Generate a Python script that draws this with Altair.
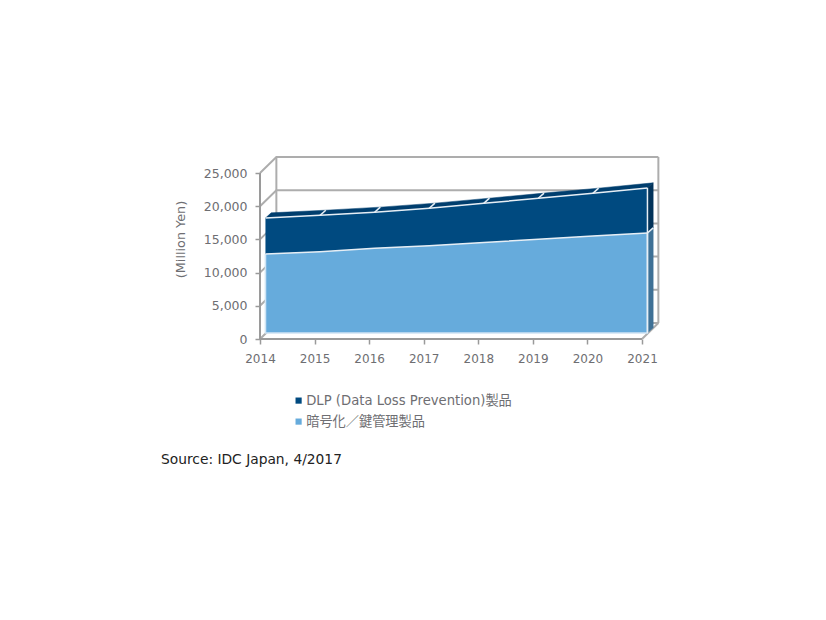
import altair as alt
import pandas as pd

years = [2014, 2015, 2016, 2017, 2018, 2019, 2020, 2021]
encryption = [11900, 12240, 12760, 13160, 13640, 14130, 14600, 15060]
dlp = [5420, 5480, 5420, 5620, 5890, 6160, 6440, 6780]
y_ticks = [0, 5000, 10000, 15000, 20000, 25000]
name_dlp = "DLP (Data Loss Prevention)製品"
name_enc = "暗号化／鍵管理製品"
source_text = "Source: IDC Japan, 4/2017"

totals = [a + b for a, b in zip(encryption, dlp)]

# 3-D depth planes, in data units: (years, value)
AXIS_PLANE = (0.0, 0)
FRONT = (0.1, 900)
BACK = (0.205, 1680)
WALL = (0.3, 2410)

FONT = "DejaVu Sans, Noto Sans CJK JP"
GRID = "#adadad"
AXIS_GREY = "#9a9a9a"
TEXT = "#6e6e72"
DARK = "#004a80"
LIGHT = "#66abdc"


def pt(year, value, plane):
    return {"x": year + plane[0], "y": value + plane[1]}


def path(points, seg):
    return [dict(p, seg=seg, i=i) for i, p in enumerate(points)]


X_SCALE = alt.Scale(domain=[2014, 2014 + 400 / 54.57], nice=False, zero=False)
Y_SCALE = alt.Scale(domain=[0, 27410], nice=False)
X_AXIS = alt.Axis(
    values=years, format="d", grid=False, domain=False, title=None,
    tickColor=AXIS_GREY, tickWidth=1.5, tickSize=5,
    labelColor=TEXT, labelFont=FONT, labelFontSize=12, labelPadding=9, labelFlush=False,
)
Y_AXIS = alt.Axis(
    values=y_ticks, format=",d", grid=False, domain=False, title="(Million Yen)",
    tickColor=AXIS_GREY, tickWidth=1.5, tickSize=5,
    labelColor=TEXT, labelFont=FONT, labelFontSize=12.5, labelPadding=8,
    titleColor=TEXT, titleFont=FONT, titleFontSize=12.8, titleFontWeight="normal",
    titlePadding=16, titleY=82,
)
X = alt.X("x:Q", scale=X_SCALE, axis=X_AXIS)
Y = alt.Y("y:Q", scale=Y_SCALE, axis=Y_AXIS)


def lines(rows, color, width):
    return alt.Chart(pd.DataFrame(rows)).mark_line(color=color, strokeWidth=width).encode(
        x=X, y=Y, detail="seg:N", order="i:Q"
    )


def polygon(rows, color):
    return alt.Chart(pd.DataFrame(rows)).mark_line(
        fill=color, stroke=color, strokeWidth=0.5, interpolate="linear-closed", filled=True
    ).encode(x=X, y=Y, order="i:Q")


# Walls and grid
wall_rows = []
for n, v in enumerate(y_ticks):
    wall_rows += path([pt(2014, v, AXIS_PLANE), pt(2014, v, WALL), pt(2021, v, WALL)], f"g{n}")
wall_rows += path([pt(2014, 0, WALL), pt(2014, 25000, WALL)], "wl")
wall_rows += path([pt(2021, 0, WALL), pt(2021, 25000, WALL)], "wr")
wall_rows += path([pt(2021, 0, AXIS_PLANE), pt(2021, 0, WALL)], "fr")
walls = lines(wall_rows, GRID, 2)

floor_rows = path([pt(2014, 0, AXIS_PLANE), pt(2021, 0, AXIS_PLANE)], "f") + path(
    [pt(2014, 0, AXIS_PLANE), pt(2014, 25000, AXIS_PLANE)], "a"
)
floor_axes = lines(floor_rows, AXIS_GREY, 2)

# Front faces
area_rows = []
for yr, enc, tot in zip(years, encryption, totals):
    area_rows.append({"x": yr + FRONT[0], "y": enc + FRONT[1], "y2": FRONT[1], "series": name_enc})
    area_rows.append({"x": yr + FRONT[0], "y": tot + FRONT[1], "y2": enc + FRONT[1], "series": name_dlp})
front_faces = alt.Chart(pd.DataFrame(area_rows)).mark_area(opacity=1).encode(
    x=X,
    y=Y,
    y2=alt.Y2("y2:Q"),
    color=alt.Color(
        "series:N",
        scale=alt.Scale(domain=[name_dlp, name_enc], range=[DARK, LIGHT]),
        legend=alt.Legend(
            title=None, orient="none", legendX=32, legendY=237, symbolType="square", symbolSize=38,
            labelFont=FONT, labelFontSize=13.2, labelColor=TEXT, rowPadding=7, labelOffset=1,
            labelLimit=300,
        ),
    ),
)

# Top face, side faces
top_rows = path(
    [pt(y, t, FRONT) for y, t in zip(years, totals)]
    + [pt(y, t, BACK) for y, t in reversed(list(zip(years, totals)))],
    "top",
)
top_face = polygon(top_rows, "#003e6e")
side_dark = polygon(
    path([pt(2021, totals[-1], FRONT), pt(2021, totals[-1], BACK),
          pt(2021, encryption[-1], BACK), pt(2021, encryption[-1], FRONT)], "sd"),
    "#02335a",
)
side_light = polygon(
    path([pt(2021, encryption[-1], FRONT), pt(2021, encryption[-1], BACK),
          pt(2021, 0, BACK), pt(2021, 0, FRONT)], "sl"),
    "#3f7196",
)

# White edges
edge_rows = path([pt(y, t, FRONT) for y, t in zip(years, totals)], "e1")
edge_rows += path([pt(y, e, FRONT) for y, e in zip(years, encryption)], "e2")
edge_rows += path([pt(2021, encryption[-1], FRONT), pt(2021, encryption[-1], BACK)], "e3")
for n, (y, t) in enumerate(zip(years, totals)):
    if 0 < n < len(years) - 1:
        edge_rows += path([pt(y, t, FRONT), pt(y, t, BACK)], f"s{n}")
edge_rows += path([pt(2021, totals[-1], FRONT), pt(2021, 0, FRONT)], "e4")
white_edges = lines(edge_rows, "#e6eef5", 1.5)

pale_rows = path([pt(2014, encryption[0], FRONT), pt(2014, 0, FRONT), pt(2021, 0, FRONT), pt(2021, encryption[-1], FRONT)], "p")
pale_edges = lines(pale_rows, "#cfe4f4", 1.6)

source = alt.Chart(pd.DataFrame({"x": [2014], "y": [0], "t": [source_text]})).mark_text(
    align="left", baseline="middle", font=FONT, fontSize=13.8, color="#222222", dx=-99, dy=121
).encode(x=X, y=Y, text="t:N")

chart = (
    alt.layer(walls, floor_axes, top_face, side_dark, side_light,
              front_faces, pale_edges, white_edges, source)
    .properties(
        width=400,
        height=182,
        padding={"left": 252, "top": 149, "right": 158, "bottom": 273},
        autosize=alt.AutoSizeParams(type="none"),
        background="white",
    )
    .configure_view(stroke=None)
)

chart.save("out.html", embed_options={"renderer": "svg", "actions": False})
